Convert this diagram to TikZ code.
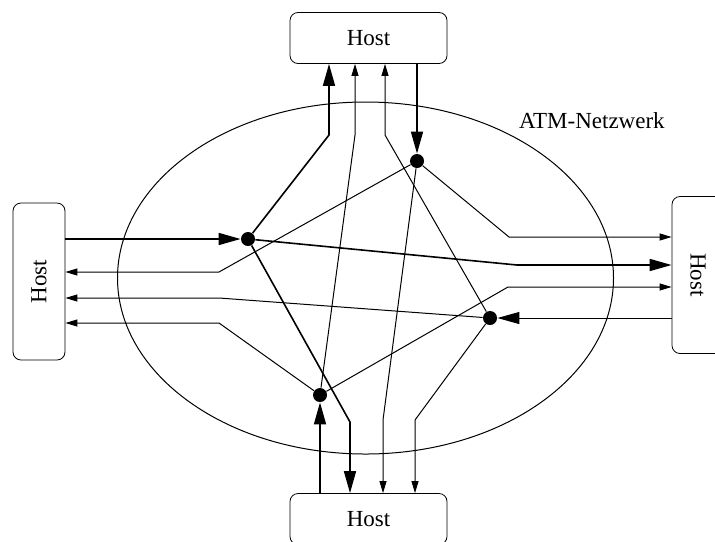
\documentclass[tikz,border=0pt]{standalone}
\usepackage{fontspec}
\setmainfont{Liberation Serif}
\usepackage{tikz}
\usetikzlibrary{positioning, arrows.meta, shapes.geometric}

\begin{document}
\begin{tikzpicture}[
    x=0.5pt, y=-0.5pt,
    hosth/.style={rectangle, draw, rounded corners=4pt, minimum width=78.5pt, minimum height=25.5pt, inner sep=0pt, font=\fontsize{11.5}{13}\selectfont},
    hostv/.style={rectangle, draw, rounded corners=4pt, minimum width=26pt, minimum height=78.5pt, inner sep=0pt, font=\fontsize{11.5}{13}\selectfont},
    switch/.style={circle, fill, inner sep=0pt, minimum size=7pt},
    main/.style={line width=0.8pt, -{Triangle[length=11pt, width=6pt]}},
    link/.style={line width=0.5pt, -{Triangle[length=6pt, width=3.5pt]}}
]
    \useasboundingbox (0,0) rectangle (715,541);
    \draw[line width=0.5pt] (365.5,278) ellipse [x radius=124pt, y radius=88pt];
    \node[anchor=base west, font=\fontsize{11.5}{13}\selectfont] (netlabel) at (512,128) {ATM-Netzwerk};

    \node[hosth] (hostT) at (368.5,38) {Host};
    \node[hostv] (hostL) at (39,281.5) {\rotatebox{90}{Host}};
    \node[hostv] (hostR) at (698,275) {\rotatebox{-90}{Host}};
    \node[hosth] (hostB) at (368.5,519) {Host};

    \node[switch] (s1) at (248,239) {};
    \node[switch] (s2) at (417,161) {};
    \node[switch] (s3) at (490,318) {};
    \node[switch] (s4) at (320,395) {};

    \draw[main] (hostL.east |- s1) -- (s1);
    \draw[main] (s2 |- hostT.south) -- (s2);
    \draw[main, line width=0.5pt] (s3 -| hostR.west) -- (s3);
    \draw[main] (s4 |- hostB.north) -- (s4);

    \draw[main] (s1) -- (329,135) -- (329,135 |- hostT.south);
    \draw[main] (s1) -- (517,265) -- (517,265 -| hostR.west);
    \draw[main] (s1) -- (350,422) -- (350,422 |- hostB.north);

    \draw[link] (s2) -- (219,272) -- (219,272 -| hostL.east);
    \draw[link] (s2) -- (509,237) -- (509,237 -| hostR.west);
    \draw[link] (s2) -- (383,420) -- (383,420 |- hostB.north);

    \draw[link] (s3) -- (385,135) -- (385,135 |- hostT.south);
    \draw[link] (s3) -- (219,298) -- (219,298 -| hostL.east);
    \draw[link] (s3) -- (415,420) -- (415,420 |- hostB.north);

    \draw[link] (s4) -- (355,135) -- (355,135 |- hostT.south);
    \draw[link] (s4) -- (219,323) -- (219,323 -| hostL.east);
    \draw[link] (s4) -- (508,287) -- (508,287 -| hostR.west);
\end{tikzpicture}
\end{document}
